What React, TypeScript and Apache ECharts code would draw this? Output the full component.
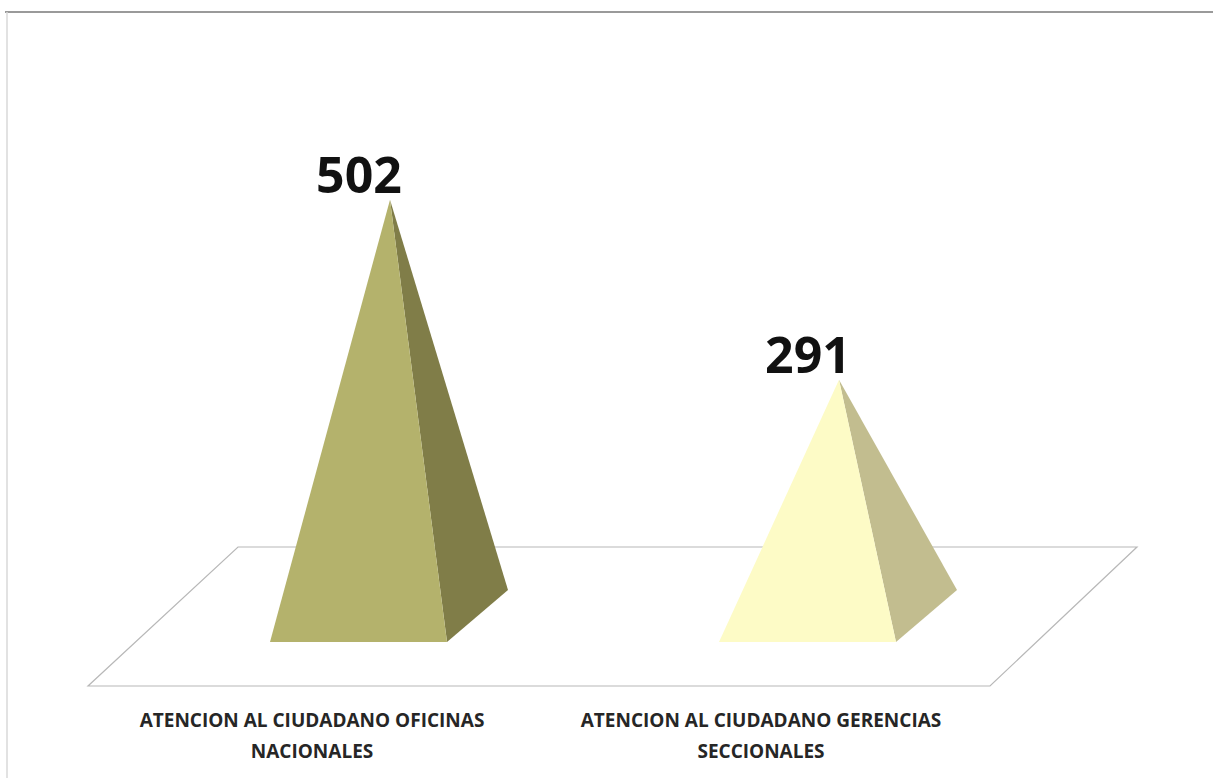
import React, { useEffect, useRef } from "react";
import * as echarts from "echarts";

const categories = [
  "ATENCION AL CIUDADANO OFICINAS\nNACIONALES",
  "ATENCION AL CIUDADANO GERENCIAS\nSECCIONALES",
];
const values = [502, 291];
const frontColors = ["#b4b26c", "#fdfbc6"];
const sideColors = ["#807d48", "#c2bd8f"];

export default function App() {
  const ref = useRef<HTMLDivElement>(null);
  useEffect(() => {
    if (!ref.current) return;
    const chart = echarts.init(ref.current, null, { renderer: "svg" });
    chart.setOption({
      animation: false,
      backgroundColor: "#ffffff",
      grid: [
        { left: 164.5, width: 898, top: 116, height: 512 },
        { left: 87.5, width: 898, top: 116, height: 512 },
      ],
      xAxis: [
        { type: "category", data: categories, gridIndex: 0, show: false },
        {
          type: "category",
          data: categories,
          gridIndex: 1,
          axisLine: { show: false },
          axisTick: { show: false },
          axisLabel: {
            interval: 0,
            margin: 76,
            fontFamily: "'Open Sans', sans-serif",
            fontWeight: "bold",
            fontSize: 19,
            lineHeight: 31,
            color: "#262626",
          },
        },
      ],
      yAxis: [
        { type: "value", min: 0, max: 600, gridIndex: 0, show: false },
        { type: "value", min: 0, max: 600, gridIndex: 1, show: false },
      ],
      graphic: [
        {
          type: "polygon",
          z: 0,
          shape: { points: [[238, 547], [1137, 547], [990, 686], [88, 686]] },
          style: { fill: "#ffffff", stroke: "#b8b8b8", lineWidth: 1.2 },
        },
        {
          type: "line",
          shape: { x1: 5, y1: 12, x2: 1213, y2: 12 },
          style: { stroke: "#9a9a9a", lineWidth: 2 },
        },
        {
          type: "line",
          shape: { x1: 7, y1: 12, x2: 7, y2: 778 },
          style: { stroke: "#d8d8d8", lineWidth: 1.5 },
        },
      ],
      series: [
        {
          type: "custom",
          xAxisIndex: 0,
          yAxisIndex: 0,
          z: 3,
          data: values.map((v, i) => [i, v]),
          renderItem: (params: any, api: any) => {
            const idx = api.value(0);
            const v = api.value(1);
            const zero = api.coord([idx, 0]);
            const top = api.coord([idx, v]);
            const cx = zero[0];
            const zy = zero[1];
            const fl = [cx - 119, zy + 14];
            const fr = [cx + 58, zy + 14];
            const br = [cx + 119, zy - 38];
            const apex = [cx + 1, top[1]];
            const i = params.dataIndex;
            return {
              type: "group",
              children: [
                {
                  type: "polygon",
                  shape: { points: [fr, br, apex] },
                  style: { fill: sideColors[i] },
                },
                {
                  type: "polygon",
                  shape: { points: [fl, fr, apex] },
                  style: { fill: frontColors[i] },
                },
                {
                  type: "text",
                  x: cx - 30,
                  y: apex[1] - 1,
                  style: {
                    text: String(v),
                    fontFamily: "Open Sans",
                    fontWeight: "bold",
                    fontSize: 50,
                    fill: "#111111",
                    textAlign: "center",
                    textVerticalAlign: "bottom",
                  },
                },
              ],
            };
          },
        },
      ],
    });
    return () => chart.dispose();
  }, []);
  return (
    <div
      ref={ref}
      style={{ position: "fixed", left: 0, top: 0, width: 1213, height: 778 }}
    />
  );
}
